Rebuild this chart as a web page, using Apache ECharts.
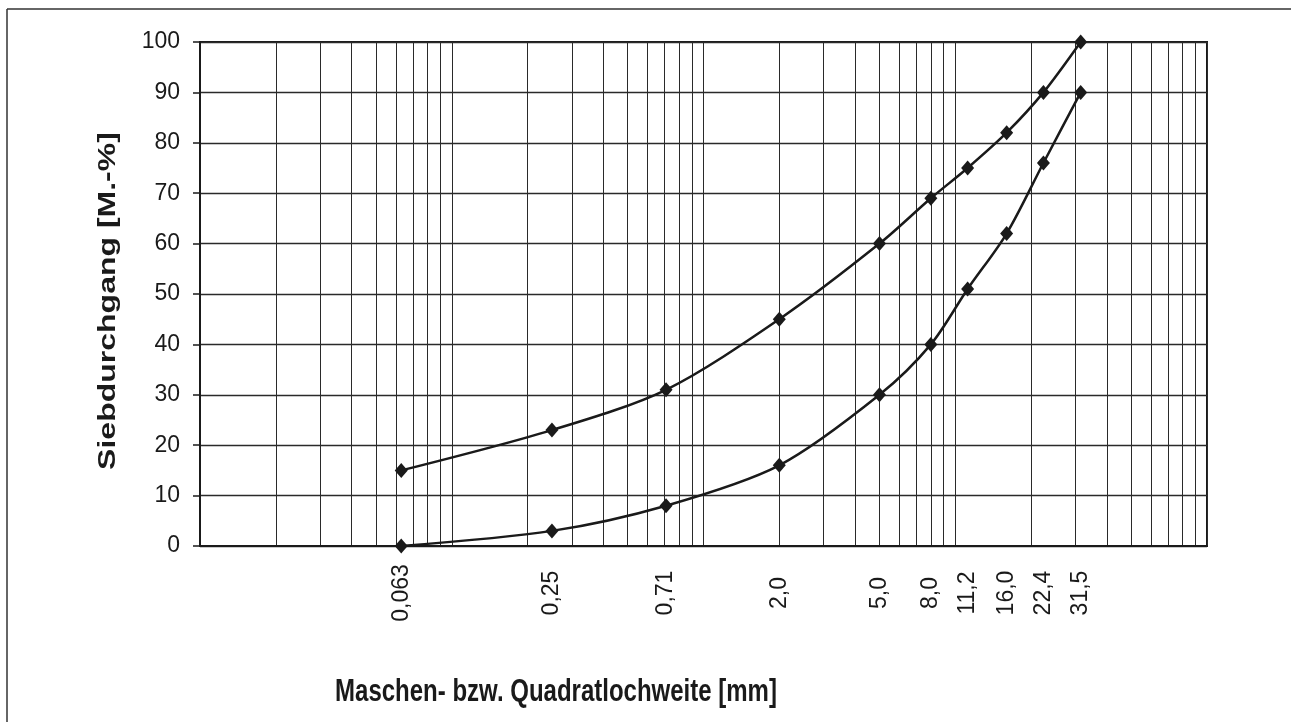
<!DOCTYPE html>
<html>
<head>
<meta charset="utf-8">
<script src="https://cdn.jsdelivr.net/npm/echarts@6/dist/echarts.min.js"></script>
<style>
  html, body { margin: 0; padding: 0; background: #fff; }
  #chart { width: 1291px; height: 722px; }
</style>
</head>
<body>
<div id="chart"></div>
<script>
// ---- data ----
const sieveSizes = [0.063, 0.25, 0.71, 2.0, 5.0, 8.0, 11.2, 16.0, 22.4, 31.5];
const sieveLabels = ['0,063', '0,25', '0,71', '2,0', '5,0', '8,0', '11,2', '16,0', '22,4', '31,5'];
const upperCurve = [15, 23, 31, 45, 60, 69, 75, 82, 90, 100];
const lowerCurve = [0, 3, 8, 16, 30, 40, 51, 62, 76, 90];
const decades = [0.01, 0.1, 1, 10];
const multipliers = [1, 2, 3, 4, 5, 6, 7, 8, 9];
const xTitle = 'Maschen- bzw. Quadratlochweite [mm]';
const yTitle = 'Siebdurchgang [M.-%]';

const gridValues = [];
decades.forEach(d => multipliers.forEach(m => gridValues.push(+(d * m).toPrecision(6))));
gridValues.push(100);

const ink = '#1a1a1a';
const chart = echarts.init(document.getElementById('chart'), null, { renderer: 'canvas' });

function toPairs(ys) { return sieveSizes.map((x, i) => [x, ys[i]]); }

const seriesStyle = {
  type: 'line',
  smooth: 0.3,
  symbol: 'diamond',
  symbolSize: [13, 15],
  lineStyle: { color: ink, width: 2.5 },
  itemStyle: { color: ink },
  silent: true,
  z: 5
};

chart.setOption({
  animation: false,
  backgroundColor: '#fff',
  grid: { left: 200, right: 84, top: 42, bottom: 176, show: true, borderColor: ink, borderWidth: 2 },
  xAxis: {
    type: 'log',
    logBase: 10,
    min: 0.01,
    max: 100,
    axisLine: { show: true, onZero: false, lineStyle: { color: ink, width: 2 } },
    axisTick: { show: false, customValues: gridValues },
    splitLine: { show: true, lineStyle: { color: '#2a2a2a', width: 1 } },
    axisLabel: {
      customValues: sieveSizes,
      rotate: 90,
      align: 'center',
      margin: 47,
      fontFamily: 'Liberation Sans, Arial, sans-serif',
      fontSize: 23,
      color: ink,
      formatter: function (v) {
        let best = 0, bd = Infinity;
        sieveSizes.forEach((s, i) => { const d = Math.abs(Math.log(s) - Math.log(v)); if (d < bd) { bd = d; best = i; } });
        return sieveLabels[best];
      }
    }
  },
  yAxis: {
    type: 'value',
    min: 0,
    max: 100,
    interval: 10,
    axisLine: { show: true, lineStyle: { color: ink, width: 2 } },
    axisTick: { show: true, length: 7, lineStyle: { color: ink, width: 1.5 } },
    splitLine: { show: true, lineStyle: { color: '#2a2a2a', width: 1.3 } },
    axisLabel: {
      margin: 20,
      fontFamily: 'Liberation Sans, Arial, sans-serif',
      fontSize: 23,
      color: ink
    }
  },
  graphic: [
    { type: 'line', shape: { x1: 7, y1: 9, x2: 1291, y2: 9 }, style: { stroke: '#333', lineWidth: 1.5 } },
    { type: 'line', shape: { x1: 7, y1: 9, x2: 7, y2: 722 }, style: { stroke: '#333', lineWidth: 1.5 } },
    {
      type: 'text', x: 556, y: 692, scaleX: 0.75,
      style: { text: xTitle, font: 'bold 32px "Liberation Sans", Arial, sans-serif', fill: ink, textAlign: 'center', textVerticalAlign: 'middle' }
    },
    {
      type: 'text', x: 108, y: 301, rotation: Math.PI / 2, scaleY: 0.75,
      style: { text: yTitle, font: 'bold 32px "Liberation Sans", Arial, sans-serif', fill: ink, textAlign: 'center', textVerticalAlign: 'middle' }
    }
  ],
  series: [
    Object.assign({ name: 'upper', data: toPairs(upperCurve) }, seriesStyle),
    Object.assign({ name: 'lower', data: toPairs(lowerCurve) }, seriesStyle)
  ]
});
</script>
</body>
</html>
